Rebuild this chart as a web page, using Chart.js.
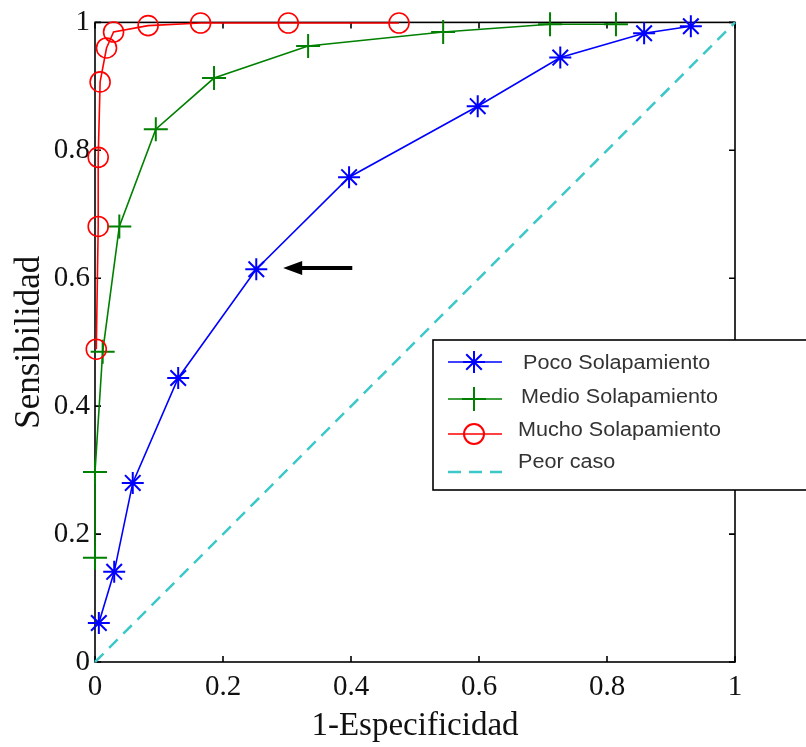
<!DOCTYPE html>
<html><head><meta charset="utf-8">
<script src="https://cdn.jsdelivr.net/npm/chart.js@4/dist/chart.umd.min.js"></script>
<style>html,body{margin:0;padding:0;background:#fff;}#wrap{width:806px;height:747px;}</style>
</head><body><div id="wrap"><canvas id="c" width="806" height="747"></canvas></div>
<script>
// ---- data ----
const seriesNames = ['Poco Solapamiento', 'Medio Solapamiento', 'Mucho Solapamiento', 'Peor caso'];
const pocoX  = [0.006, 0.030, 0.059, 0.130, 0.252, 0.397, 0.598, 0.727, 0.858, 0.931];
const pocoY  = [0.061, 0.141, 0.280, 0.444, 0.614, 0.758, 0.869, 0.945, 0.983, 0.994];
const medioX = [0.000, 0.000, 0.012, 0.038, 0.095, 0.186, 0.333, 0.544, 0.711, 0.814];
const medioY = [0.163, 0.297, 0.485, 0.681, 0.833, 0.913, 0.963, 0.985, 0.997, 0.997];
const muchoX = [0.002, 0.005, 0.005, 0.008, 0.018, 0.029, 0.083, 0.165, 0.302, 0.475];
const muchoY = [0.489, 0.681, 0.789, 0.907, 0.960, 0.985, 0.995, 0.999, 0.999, 0.999];
const peorX  = [0, 1];
const peorY  = [0, 1];
const xTicks = [0, 0.2, 0.4, 0.6, 0.8, 1];
const yTicks = [0, 0.2, 0.4, 0.6, 0.8, 1];
const xTitle = '1-Especificidad';
const yTitle = 'Sensibilidad';
const arrowFrom = [0.402, 0.616];
const arrowTo   = [0.294, 0.616];

const toPts = (xs, ys) => xs.map((x, i) => ({x: x, y: ys[i]}));
const colors = ['#0000ff', '#008000', '#ff0000', '#3cc8c8'];

function drawMarker(ctx, style, x, y, r, color) {
  ctx.save();
  ctx.strokeStyle = color; ctx.lineWidth = 2;
  ctx.beginPath();
  if (style === 'star' || style === 'cross') {
    ctx.moveTo(x - r, y); ctx.lineTo(x + r, y);
    ctx.moveTo(x, y - r); ctx.lineTo(x, y + r);
    if (style === 'star') {
      const d = r * Math.SQRT1_2;
      ctx.moveTo(x - d, y - d); ctx.lineTo(x + d, y + d);
      ctx.moveTo(x - d, y + d); ctx.lineTo(x + d, y - d);
    }
  } else if (style === 'circle') {
    ctx.arc(x, y, r, 0, Math.PI * 2);
  }
  ctx.stroke();
  ctx.restore();
}

const decor = {
  id: 'decor',
  beforeDatasetsDraw(chart) {
    const {ctx, chartArea: {left, right, top, bottom}, scales: {x, y}} = chart;
    ctx.save();
    ctx.strokeStyle = '#000'; ctx.lineWidth = 1.6;
    ctx.strokeRect(left, top, right - left, bottom - top);
    ctx.beginPath();
    x.ticks.forEach(t => {
      const px = x.getPixelForValue(t.value);
      ctx.moveTo(px, bottom); ctx.lineTo(px, bottom - 6);
      ctx.moveTo(px, top); ctx.lineTo(px, top + 6);
    });
    y.ticks.forEach(t => {
      const py = y.getPixelForValue(t.value);
      ctx.moveTo(left, py); ctx.lineTo(left + 6, py);
      ctx.moveTo(right, py); ctx.lineTo(right - 6, py);
    });
    ctx.stroke();
    ctx.restore();
  },
  afterDraw(chart) {
    const {ctx, scales: {x, y}} = chart;
    // arrow annotation
    const x1 = x.getPixelForValue(arrowFrom[0]), y1 = y.getPixelForValue(arrowFrom[1]);
    const x2 = x.getPixelForValue(arrowTo[0]),   y2 = y.getPixelForValue(arrowTo[1]);
    ctx.save();
    ctx.strokeStyle = '#000'; ctx.fillStyle = '#000'; ctx.lineWidth = 4;
    ctx.beginPath(); ctx.moveTo(x1, y1); ctx.lineTo(x2 + 15, y2); ctx.stroke();
    ctx.beginPath(); ctx.moveTo(x2, y2); ctx.lineTo(x2 + 19, y2 - 7); ctx.lineTo(x2 + 19, y2 + 7); ctx.closePath(); ctx.fill();
    ctx.restore();

    // legend box
    ctx.save();
    ctx.fillStyle = '#fff'; ctx.strokeStyle = '#000'; ctx.lineWidth = 1.6;
    ctx.fillRect(433, 340, 380, 150);
    ctx.strokeRect(433, 340, 380, 150);
    const lineY = [362, 399, 434, 472];
    const textY = [369, 403, 436, 468];
    const textX = [523, 521, 518, 518];
    const styles = ['star', 'cross', 'circle', null];
    const rads = [11, 12, 10, 0];
    chart.data.datasets.forEach((ds, i) => {
      ctx.save();
      ctx.strokeStyle = colors[i];
      ctx.lineWidth = i === 3 ? 2.5 : 1.6;
      if (i === 3) ctx.setLineDash([13, 8]);
      ctx.beginPath(); ctx.moveTo(448, lineY[i]); ctx.lineTo(502, lineY[i]); ctx.stroke();
      ctx.restore();
      if (styles[i]) drawMarker(ctx, styles[i], 474, lineY[i], rads[i], colors[i]);
      ctx.save();
      ctx.fillStyle = '#333';
      ctx.font = '20px "Liberation Sans", Arial, sans-serif';
      ctx.textBaseline = 'alphabetic'; ctx.textAlign = 'left';
      ctx.translate(textX[i], textY[i]);
      ctx.scale(1.08, 1);
      ctx.fillText(ds.label, 0, 0);
      ctx.restore();
    });
    ctx.restore();
  }
};

const tickFont = {family: '"Liberation Serif", "Times New Roman", serif', size: 29};

new Chart(document.getElementById('c'), {
  type: 'scatter',
  data: {
    datasets: [
      {label: seriesNames[0], data: toPts(pocoX, pocoY), showLine: true, borderColor: colors[0], backgroundColor: 'rgba(0,0,0,0)',
       borderWidth: 1.6, pointStyle: 'star', pointRadius: 11, pointBorderWidth: 2, pointBorderColor: colors[0], clip: false, order: 3},
      {label: seriesNames[1], data: toPts(medioX, medioY), showLine: true, borderColor: colors[1], backgroundColor: 'rgba(0,0,0,0)',
       borderWidth: 1.6, pointStyle: 'cross', pointRadius: 12, pointBorderWidth: 2, pointBorderColor: colors[1], clip: false, order: 2},
      {label: seriesNames[2], data: toPts(muchoX, muchoY), showLine: true, borderColor: colors[2], backgroundColor: 'rgba(0,0,0,0)',
       borderWidth: 1.6, pointStyle: 'circle', pointRadius: 10, pointBorderWidth: 1.6, pointBorderColor: colors[2], clip: false, order: 1},
      {label: seriesNames[3], data: toPts(peorX, peorY), showLine: true, borderColor: colors[3], backgroundColor: 'rgba(0,0,0,0)',
       borderWidth: 2.5, borderDash: [12, 8], pointRadius: 0, clip: false, order: 0}
    ]
  },
  options: {
    responsive: false, animation: false, devicePixelRatio: 1,
    layout: {padding: {left: 0, right: 71, top: 22, bottom: 0}},
    plugins: {legend: {display: false}, tooltip: {enabled: false}},
    scales: {
      x: {
        type: 'linear', min: 0, max: 1,
        afterBuildTicks: s => { s.ticks = xTicks.map(v => ({value: v})); },
        afterFit: s => { s.height = 85; },
        grid: {display: false, drawTicks: false}, border: {display: false},
        ticks: {font: tickFont, color: '#111', padding: 8, maxRotation: 0, autoSkip: false, callback: v => String(v)},
        title: {display: true, text: xTitle, color: '#111', font: {family: '"Liberation Serif", "Times New Roman", serif', size: 33}, padding: {top: 0, bottom: 1}}
      },
      y: {
        type: 'linear', min: 0, max: 1,
        afterBuildTicks: s => { s.ticks = yTicks.map(v => ({value: v})); },
        afterFit: s => { s.width = 95; },
        grid: {display: false, drawTicks: false}, border: {display: false},
        ticks: {font: tickFont, color: '#111', padding: 5, autoSkip: false, callback: v => String(v)},
        title: {display: true, text: yTitle, color: '#111', font: {family: '"Liberation Serif", "Times New Roman", serif', size: 35}, padding: {top: 9, bottom: 0}}
      }
    }
  },
  plugins: [decor]
});
</script>
</body></html>
